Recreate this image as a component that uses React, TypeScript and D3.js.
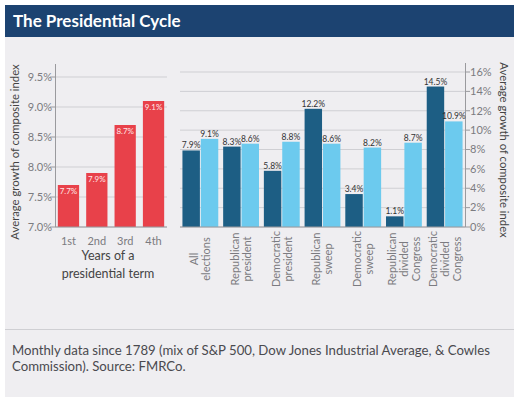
import React from "react";
import * as d3 from "d3";

// Years of a presidential term
const termYears = ["1st", "2nd", "3rd", "4th"];
const termGrowth = [7.7, 7.9, 8.7, 9.1];
const leftTicks = [7.0, 7.5, 8.0, 8.5, 9.0, 9.5];

// Election outcomes
const outcomes = [
  ["All", "elections"],
  ["Republican", "president"],
  ["Democratic", "president"],
  ["Republican", "sweep"],
  ["Democratic", "sweep"],
  ["Republican", "divided", "Congress"],
  ["Democratic", "divided", "Congress"],
];
const darkSeries = [7.9, 8.3, 5.8, 12.2, 3.4, 1.1, 14.5];
const lightSeries = [9.1, 8.6, 8.8, 8.6, 8.2, 8.7, 10.9];
const rightTicks = [0, 2, 4, 6, 8, 10, 12, 14, 16];

const FONT = "Lato, 'Open Sans', sans-serif";
const RED = "#e8414a";
const DARK = "#1d5e84";
const LIGHT = "#6ccaee";
const GRID = "#cfcfd3";
const AXIS = "#9a9a9e";
const TICK_TEXT = "#7b7b80";

export default function App() {
  const W = 522;
  const H = 406;

  // Left chart scales
  const xL = d3.scaleBand<string>().domain(termYears).range([55, 167]).paddingInner(0.25).paddingOuter(0.1);
  const yL = d3.scaleLinear().domain([7, 9.5]).range([227, 77]);

  // Right chart scales
  const groups = outcomes.map((o) => o.join(" "));
  const xR = d3.scaleBand<string>().domain(groups).range([180, 465]).paddingInner(0.12).paddingOuter(0.06);
  const xSub = d3.scaleBand<string>().domain(["d", "l"]).range([0, xR.bandwidth()]).paddingInner(0.05);
  const yR = d3.scaleLinear().domain([0, 16]).range([227, 72]);

  return (
    <svg width={W} height={H} style={{ position: "absolute", left: 0, top: 0 }} fontFamily={FONT}>
      <rect x={0} y={0} width={W} height={H} fill="#ffffff" />
      {/* card */}
      <rect x={5} y={37} width={509} height={360} fill="#efeef1" />
      <rect x={5} y={5} width={509} height={32} fill="#1c4371" />
      <text x={13} y={27} fill="#ffffff" fontSize={17} fontWeight={700}>
        The Presidential Cycle
      </text>
      <line x1={5} x2={514} y1={329.5} y2={329.5} stroke="#cfcfd3" />

      {/* Left chart */}
      <g>
        {leftTicks.map((t) => (
          <g key={t}>
            <line x1={55} x2={167} y1={yL(t)} y2={yL(t)} stroke={GRID} />
            <line x1={50} x2={55} y1={yL(t)} y2={yL(t)} stroke={AXIS} />
            <text x={52} y={yL(t)} dy="0.35em" textAnchor="end" fontSize={11} fill={TICK_TEXT}>
              {t.toFixed(1)}%
            </text>
          </g>
        ))}
        <line x1={55.5} x2={55.5} y1={64} y2={227} stroke={AXIS} />
        {termYears.map((c, i) => (
          <g key={c}>
            <rect
              x={xL(c)!}
              y={yL(termGrowth[i])}
              width={xL.bandwidth()}
              height={yL(7) - yL(termGrowth[i])}
              fill={RED}
            />
            <text
              x={xL(c)! + xL.bandwidth() / 2}
              y={yL(termGrowth[i]) + 9}
              textAnchor="middle"
              fontSize={8}
              fill="#ffe6e6"
            >
              {termGrowth[i].toFixed(1)}%
            </text>
            <text
              x={xL(c)! + xL.bandwidth() / 2}
              y={241}
              dy="0.35em"
              textAnchor="middle"
              fontSize={11}
              fill={TICK_TEXT}
            >
              {c}
            </text>
          </g>
        ))}
        <line x1={55} x2={167} y1={227} y2={227} stroke={AXIS} />
        <text x={108} y={260} textAnchor="middle" fontSize={12.5} fill="#444">
          Years of a
        </text>
        <text x={108} y={278} textAnchor="middle" fontSize={12.5} fill="#444">
          presidential term
        </text>
        <text
          transform={`translate(19,152) rotate(-90)`}
          textAnchor="middle"
          fontSize={11.3}
          fill="#444"
        >
          Average growth of composite index
        </text>
      </g>

      {/* Right chart */}
      <g>
        {rightTicks.map((t) => (
          <g key={t}>
            <line x1={180} x2={465} y1={yR(t)} y2={yR(t)} stroke={GRID} />
            <line x1={465} x2={470} y1={yR(t)} y2={yR(t)} stroke={AXIS} />
            <text x={470} y={yR(t)} dy="0.35em" fontSize={11} fill={TICK_TEXT}>
              {t}%
            </text>
          </g>
        ))}
        <line x1={465.5} x2={465.5} y1={63} y2={227} stroke={AXIS} />
        {groups.map((g, i) => {
          const x0 = xR(g)!;
          const bw = xSub.bandwidth();
          const xd = x0 + xSub("d")!;
          const xl = x0 + xSub("l")!;
          const center = x0 + xR.bandwidth() / 2;
          const lines = outcomes[i];
          return (
            <g key={g}>
              <rect x={xd} y={yR(darkSeries[i])} width={bw} height={yR(0) - yR(darkSeries[i])} fill={DARK} />
              <rect x={xl} y={yR(lightSeries[i])} width={bw} height={yR(0) - yR(lightSeries[i])} fill={LIGHT} />
              <text x={xd + bw / 2} y={yR(darkSeries[i]) - 2} textAnchor="middle" fontSize={8.5} fill="#333">
                {darkSeries[i].toFixed(1)}%
              </text>
              <text x={xl + bw / 2} y={yR(lightSeries[i]) - 2} textAnchor="middle" fontSize={8.5} fill="#333">
                {lightSeries[i].toFixed(1)}%
              </text>
              {lines.map((ln, j) => (
                <text
                  key={ln}
                  transform={`translate(${center + (j - (lines.length - 1) / 2) * 12},259) rotate(-90)`}
                  textAnchor="middle"
                  dy="0.35em"
                  fontSize={11}
                  fill={TICK_TEXT}
                >
                  {ln}
                </text>
              ))}
            </g>
          );
        })}
        <line x1={180} x2={465} y1={227} y2={227} stroke={AXIS} />
        <text
          transform={`translate(500,150) rotate(90)`}
          textAnchor="middle"
          fontSize={11.3}
          fill="#444"
        >
          Average growth of composite index
        </text>
      </g>

      {/* Footer */}
      <text x={12} y={355} fontSize={13.2} fill="#4a4a4f">
        Monthly data since 1789 (mix of S&amp;P 500, Dow Jones Industrial Average, &amp; Cowles
      </text>
      <text x={12} y={371} fontSize={13.2} fill="#4a4a4f">
        Commission). Source: FMRCo.
      </text>
    </svg>
  );
}
